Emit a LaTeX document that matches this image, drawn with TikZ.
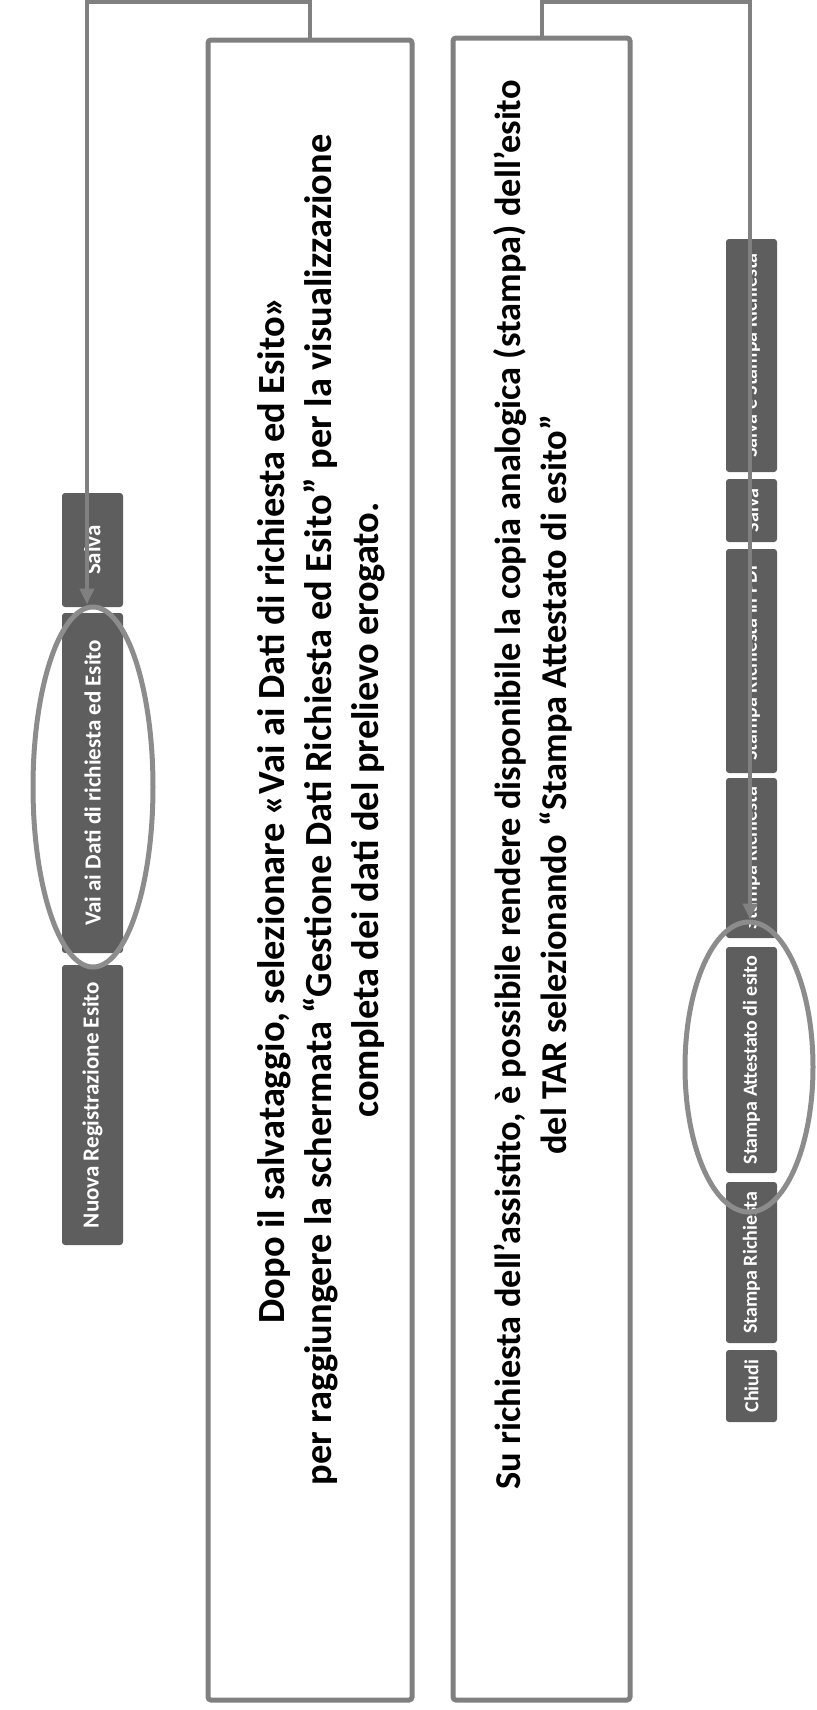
\documentclass[tikz,border=0pt]{standalone}
\usepackage{fontspec}
\setmainfont{Carlito}
\usetikzlibrary{arrows.meta,shapes.geometric}
\definecolor{btngray}{HTML}{5E5E5E}
\definecolor{linegray}{HTML}{808080}
\definecolor{ellgray}{HTML}{8C8C8C}
\tikzset{
  box/.style={draw=linegray, line width=2.5pt, rounded corners=1.5pt, fill=white, inner sep=0pt},
  maintext/.style={rotate=90, align=center, inner sep=0pt},
  btnl/.style={rotate=90, fill=btngray, rounded corners=1.5pt, text=white, inner sep=0pt,
    minimum height=30.5pt, font=\bfseries\fontsize{11.5}{13}\selectfont},
  btnr/.style={rotate=90, fill=btngray, rounded corners=1.5pt, text=white, inner sep=0pt,
    minimum height=25.5pt, font=\bfseries\fontsize{10}{12}\selectfont},
  btntxt/.style={rotate=90, text=white, inner sep=0pt, font=\bfseries\fontsize{10}{12}\selectfont},
  ring/.style={ellipse, draw=ellgray, line width=2.5pt, inner sep=0pt},
  conn/.style={draw=linegray, line width=2pt, -{Triangle[length=8pt,width=7pt]}}
}
\begin{document}
\begin{tikzpicture}[x=0.5pt,y=-0.5pt]
\useasboundingbox (0,0) rectangle (816,1710);
% text boxes
\node[box, minimum width=102pt, minimum height=830pt] (b1) at (310,870) {};
\node[box, minimum width=88.5pt, minimum height=831pt] (b2) at (541.5,869) {};
\node[maintext, font=\bfseries\fontsize{19.2}{23.5}\selectfont] (t1) at (321,810) {Dopo il salvataggio, selezionare «Vai ai Dati di richiesta ed Esito»\\
per raggiungere la schermata “Gestione Dati Richiesta ed Esito” per la visualizzazione\\
completa dei dati del prelievo erogato.};
\node[maintext, font=\bfseries\fontsize{18.2}{23}\selectfont] (t2) at (533,785) {Su richiesta dell’assistito, è possibile rendere disponibile la copia analogica (stampa) dell’esito\\
del TAR selezionando “Stampa Attestato di esito”};
% left buttons
\node[btnl, minimum width=57pt] (lsalva) at (92.5,550) {Salva};
\node[btnl, minimum width=170pt] (lvai) at (92.5,783) {Vai ai Dati di richiesta ed Esito};
\node[btnl, minimum width=140pt] (lnuova) at (92.5,1105) {Nuova Registrazione Esito};
% right buttons
\node[btnr, minimum width=36pt] (rchiudi) at (751.5,1386) {Chiudi};
\node[btnr, minimum width=80.5pt] (rstric2) at (751.5,1262.5) {Stampa Richiesta};
\node[btnr, minimum width=113pt] (ratt) at (751.5,1060) {Stampa Attestato di esito};
\node[btnr, minimum width=80pt] (rstric1) at (751.5,858) {};
\node[btnr, minimum width=112pt] (rpdf) at (751.5,661) {};
\node[btnr, minimum width=31.5pt] (rsalva) at (751.5,510.5) {};
\node[btnr, minimum width=116.5pt] (rsalvast) at (751.5,355.5) {};
\begin{scope}
\clip (749,0) rectangle (816,1710);
\node[btntxt] (tstric1) at (rstric1) {Stampa Richiesta};
\node[btntxt] (tpdf) at (rpdf) {Stampa Richiesta in PDF};
\node[btntxt] (tsalva) at (rsalva) {Salva};
\node[btntxt] (tsalvast) at (rsalvast) {Salva e Stampa Richiesta};
\end{scope}
% rings
\node[ring, minimum width=60pt, minimum height=180pt] (ellL) at (93,787) {};
\node[ring, minimum width=64pt, minimum height=145pt] (ellR) at (749,1067) {};
% connectors
\coordinate (cL) at (87,2);
\coordinate (cR) at (750,2);
\draw[conn] (b1.north) |- (cL) -- (ellL.north -| cL);
\draw[conn] (b2.north) |- (cR) -- (ellR.north -| cR);
\end{tikzpicture}
\end{document}
